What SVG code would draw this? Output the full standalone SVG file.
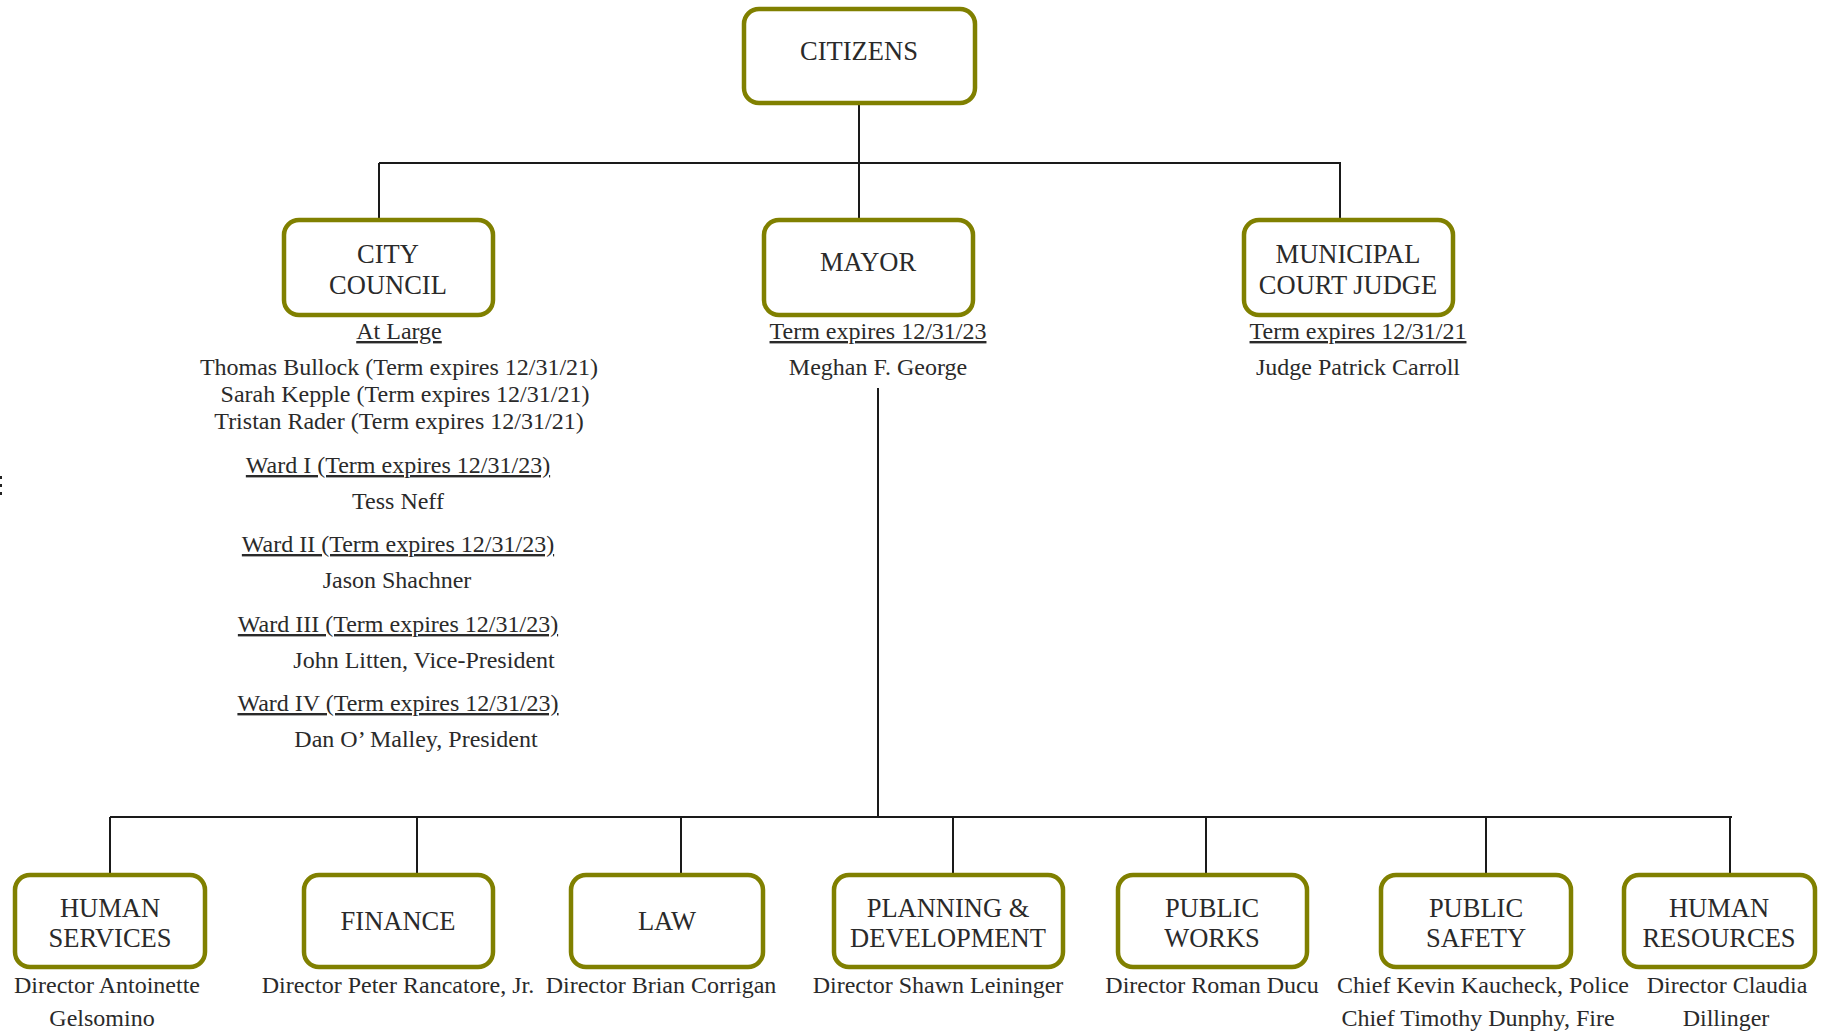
<svg xmlns="http://www.w3.org/2000/svg" width="1826" height="1032" viewBox="0 0 1826 1032">
<style>
.box{fill:#fff;stroke:#808000;stroke-width:4.5}
.bt{font-family:"Liberation Serif","Times New Roman",serif;font-size:26.5px;fill:#2a2a2a;text-anchor:middle}
.lt{font-family:"Liberation Serif","Times New Roman",serif;font-size:24px;fill:#2a2a2a;text-anchor:middle}
.u{text-decoration:underline}
.c{stroke:#1a1a1a;stroke-width:2;fill:none}
</style>
<rect width="1826" height="1032" fill="#fff"/>
<g id="connectors">
<path class="c" d="M859 105V218M379 163H1341M379 163V218M1340 163V218"/>
<path class="c" d="M878 388V817M110 817H1732M110 817V873M417 817V873M681 817V873M953 817V873M1206 817V873M1486 817V873M1730 817V873"/>
</g>
<g id="edge-marks" fill="#222">
<rect x="0" y="476" width="2" height="3"/>
<rect x="0" y="484" width="2" height="3"/>
<rect x="0" y="492" width="2" height="3"/>
</g>
<g id="citizens">
<rect class="box" x="744" y="9" width="231" height="94" rx="15"/>
<text class="bt" x="859" y="60">CITIZENS</text>
</g>
<g id="city-council">
<rect class="box" x="284" y="220" width="209" height="95" rx="15"/>
<text class="bt" x="388" y="263">CITY</text>
<text class="bt" x="388" y="294">COUNCIL</text>
<text class="lt u" x="399" y="339">At Large</text>
<text class="lt" x="399" y="375">Thomas Bullock (Term expires 12/31/21)</text>
<text class="lt" x="405" y="402">Sarah Kepple (Term expires 12/31/21)</text>
<text class="lt" x="399" y="429">Tristan Rader (Term expires 12/31/21)</text>
<text class="lt u" x="398" y="473">Ward I (Term expires 12/31/23)</text>
<text class="lt" x="398" y="509">Tess Neff</text>
<text class="lt u" x="398" y="552">Ward II (Term expires 12/31/23)</text>
<text class="lt" x="397" y="588">Jason Shachner</text>
<text class="lt u" x="398" y="632">Ward III (Term expires 12/31/23)</text>
<text class="lt" x="424" y="668">John Litten, Vice-President</text>
<text class="lt u" x="398" y="711">Ward IV (Term expires 12/31/23)</text>
<text class="lt" x="416" y="747">Dan O’ Malley, President</text>
</g>
<g id="mayor">
<rect class="box" x="764" y="220" width="209" height="95" rx="15"/>
<text class="bt" x="868" y="271">MAYOR</text>
<text class="lt u" x="878" y="339">Term expires 12/31/23</text>
<text class="lt" x="878" y="375">Meghan F. George</text>
</g>
<g id="municipal-court-judge">
<rect class="box" x="1244" y="220" width="209" height="95" rx="15"/>
<text class="bt" x="1348" y="263">MUNICIPAL</text>
<text class="bt" x="1348" y="294">COURT JUDGE</text>
<text class="lt u" x="1358" y="339">Term expires 12/31/21</text>
<text class="lt" x="1358" y="375">Judge Patrick Carroll</text>
</g>
<g id="human-services">
<rect class="box" x="15" y="875" width="190" height="92" rx="15"/>
<text class="bt" x="110" y="917">HUMAN</text>
<text class="bt" x="110" y="947">SERVICES</text>
<text class="lt" x="107" y="993">Director Antoinette</text>
<text class="lt" x="102" y="1026">Gelsomino</text>
</g>
<g id="finance">
<rect class="box" x="304" y="875" width="189" height="92" rx="15"/>
<text class="bt" x="398" y="930">FINANCE</text>
<text class="lt" x="398" y="993">Director Peter Rancatore, Jr.</text>
</g>
<g id="law">
<rect class="box" x="571" y="875" width="192" height="92" rx="15"/>
<text class="bt" x="667" y="930">LAW</text>
<text class="lt" x="661" y="993">Director Brian Corrigan</text>
</g>
<g id="planning-development">
<rect class="box" x="834" y="875" width="229" height="92" rx="15"/>
<text class="bt" x="948" y="917">PLANNING &amp;</text>
<text class="bt" x="948" y="947">DEVELOPMENT</text>
<text class="lt" x="938" y="993">Director Shawn Leininger</text>
</g>
<g id="public-works">
<rect class="box" x="1118" y="875" width="189" height="92" rx="15"/>
<text class="bt" x="1212" y="917">PUBLIC</text>
<text class="bt" x="1212" y="947">WORKS</text>
<text class="lt" x="1212" y="993">Director Roman Ducu</text>
</g>
<g id="public-safety">
<rect class="box" x="1381" y="875" width="190" height="92" rx="15"/>
<text class="bt" x="1476" y="917">PUBLIC</text>
<text class="bt" x="1476" y="947">SAFETY</text>
<text class="lt" x="1483" y="993">Chief Kevin Kaucheck, Police</text>
<text class="lt" x="1478" y="1026">Chief Timothy Dunphy, Fire</text>
</g>
<g id="human-resources">
<rect class="box" x="1624" y="875" width="191" height="92" rx="15"/>
<text class="bt" x="1719" y="917">HUMAN</text>
<text class="bt" x="1719" y="947">RESOURCES</text>
<text class="lt" x="1727" y="993">Director Claudia</text>
<text class="lt" x="1726" y="1026">Dillinger</text>
</g>
</svg>
